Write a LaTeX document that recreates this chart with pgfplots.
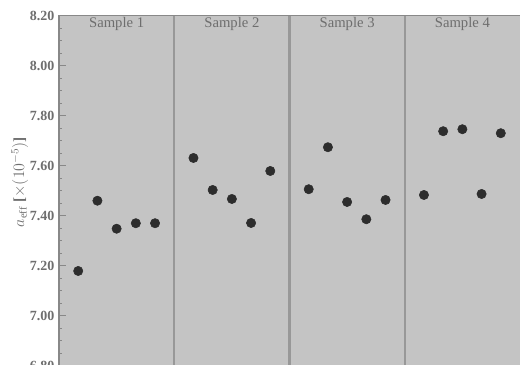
\documentclass[border=0pt]{standalone}
\usepackage{fontspec}
\setmainfont{Liberation Serif}
\usepackage{pgfplots}
\pgfplotsset{compat=1.18}
\definecolor{bg}{RGB}{196,196,196}
\definecolor{axc}{RGB}{136,136,136}
\definecolor{sep}{RGB}{152,152,152}
\definecolor{dot}{RGB}{45,45,45}
\definecolor{lab}{RGB}{110,110,110}
\begin{document}
\begin{tikzpicture}[x=1pt,y=1pt]
\useasboundingbox (0,0) rectangle (390,273);
\begin{axis}[at={(44.25pt,-1.1pt)}, anchor=south west, scale only axis,
  width=345.75pt, height=262.5pt,
  xmin=0, xmax=24, ymin=6.8, ymax=8.2,
  axis background/.style={fill=bg},
  axis line style={draw=none},
  xtick=\empty,
  ytick={6.8,7.0,7.2,7.4,7.6,7.8,8.0,8.2},
  minor y tick num=3,
  ytick pos=left,
  tick align=inside,
  major tick length=5pt, minor tick length=2.5pt,
  every tick/.style={axc, line width=0.6pt},
  yticklabel style={/pgf/number format/.cd, fixed, fixed zerofill, precision=2, assume math mode=true, /tikz/.cd, font=\bfseries\fontsize{10.5}{11}\selectfont, color=lab},
  ylabel={$a_{\mathrm{eff}}$ [$\times(10^{-5})$]},
  every axis y label/.style={at={(axis description cs:-0.085,0.524)}, rotate=90, anchor=center, font=\bfseries\fontsize{11.5}{12}\selectfont, color=lab},
  clip=false,
]
\draw[sep, line width=1.6pt] (axis cs:6,6.8) -- (axis cs:6,8.2);
\draw[sep, line width=1.6pt] (axis cs:12,6.8) -- (axis cs:12,8.2);
\draw[sep, line width=1.6pt] (axis cs:18,6.8) -- (axis cs:18,8.2);
\draw[axc, line width=0.9pt] (axis cs:0,6.8) -- (axis cs:0,8.2) -- (axis cs:24,8.2);
\addplot[only marks, mark=*, mark size=3.5pt, color=dot] coordinates {
  (1,7.178) (2,7.459) (3,7.347) (4,7.369) (5,7.369)
  (7,7.630) (8,7.502) (9,7.466) (10,7.370) (11,7.578)
  (13,7.505) (14,7.673) (15,7.454) (16,7.385) (17,7.462)
  (19,7.482) (20,7.737) (21,7.745) (22,7.486) (23,7.729)
};
\node[lab, font=\fontsize{11}{12}\selectfont] at (axis cs:3,8.164) {Sample 1};
\node[lab, font=\fontsize{11}{12}\selectfont] at (axis cs:9,8.164) {Sample 2};
\node[lab, font=\fontsize{11}{12}\selectfont] at (axis cs:15,8.164) {Sample 3};
\node[lab, font=\fontsize{11}{12}\selectfont] at (axis cs:21,8.164) {Sample 4};
\end{axis}
\end{tikzpicture}
\end{document}
